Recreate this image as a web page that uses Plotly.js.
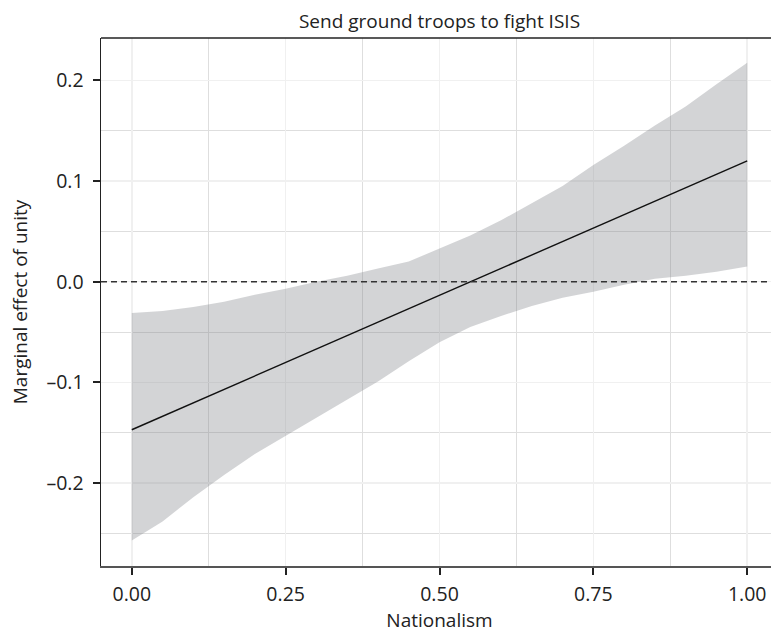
<!DOCTYPE html>
<html>
<head>
<meta charset="utf-8">
<script src="https://cdn.plot.ly/plotly-3.0.1.min.js"></script>
<style>
  html, body { margin: 0; padding: 0; overflow: hidden; background: #fff; }
  #chart { width: 778px; height: 636px; }
</style>
</head>
<body>
<div id="chart"></div>
<script>
// Nationalism values at which the marginal effect is evaluated
const nationalism = [0, 0.05, 0.10, 0.15, 0.20, 0.25, 0.30, 0.35, 0.40, 0.45, 0.50,
                     0.55, 0.60, 0.65, 0.70, 0.75, 0.80, 0.85, 0.90, 0.95, 1.00];
// Upper and lower confidence bounds
const upperCI = [-0.031, -0.029, -0.025, -0.020, -0.013, -0.007, 0.000, 0.006, 0.013, 0.020, 0.033,
                 0.046, 0.061, 0.078, 0.095, 0.116, 0.135, 0.155, 0.174, 0.196, 0.2175];
const lowerCI = [-0.257, -0.238, -0.214, -0.192, -0.171, -0.153, -0.135, -0.117, -0.099, -0.079, -0.060,
                 -0.045, -0.034, -0.024, -0.016, -0.010, -0.003, 0.003, 0.006, 0.010, 0.015];
// Point estimate line (straight line, endpoints)
const lineX = [0, 1];
const lineY = [-0.147, 0.120];
// Reference line
const refLine = 0;
// Ticks
const xTicks = [0, 0.25, 0.5, 0.75, 1.0];
const xTickText = ["0.00", "0.25", "0.50", "0.75", "1.00"];
const yTicks = [-0.2, -0.1, 0.0, 0.1, 0.2];
const yTickText = ["\u20130.2", "\u20130.1", "0.0", "0.1", "0.2"];

const FONT = "Open Sans, Noto Sans, sans-serif";

const traces = [
  { x: nationalism, y: lowerCI, type: "scatter", mode: "lines",
    line: { width: 0, color: "rgba(0,0,0,0)" }, hoverinfo: "skip", showlegend: false },
  { x: nationalism, y: upperCI, type: "scatter", mode: "lines", fill: "tonexty",
    fillcolor: "rgba(120,124,130,0.33)",
    line: { width: 0, color: "rgba(0,0,0,0)" }, hoverinfo: "skip", showlegend: false },
  { x: lineX, y: lineY, type: "scatter", mode: "lines",
    line: { width: 1.4, color: "#111" }, showlegend: false }
];

const layout = {
  width: 778, height: 636,
  margin: { l: 101, r: 0, t: 38, b: 70 },
  paper_bgcolor: "#fff", plot_bgcolor: "#fff",
  font: { family: FONT, color: "#222" },
  title: { text: "Send ground troops to fight ISIS", font: { size: 19, color: "#222", family: FONT },
           x: 0.5, xref: "paper", xanchor: "center", y: 1, yref: "paper", yanchor: "bottom",
           pad: { b: 10 } },
  xaxis: {
    range: [-0.05, 1.05], tickvals: xTicks, ticktext: xTickText,
    showline: true, linecolor: "#555", linewidth: 2,
    ticks: "outside", ticklen: 7, tickwidth: 2, tickcolor: "#222",
    tickfont: { size: 19.5, color: "#222" }, ticklabelstandoff: 3,
    showgrid: true, gridcolor: "#f0f0f0", gridwidth: 1.5,
    minor: { dtick: 0.125, tick0: 0, showgrid: true, gridcolor: "#dedede", gridwidth: 1, ticks: "" },
    zeroline: false,
    title: { text: "Nationalism", font: { size: 19, color: "#222" }, standoff: 6 }
  },
  yaxis: {
    range: [-0.2823, 0.242], tickvals: yTicks, ticktext: yTickText,
    showline: true, linecolor: "#222", linewidth: 1.5,
    ticks: "outside", ticklen: 7, tickwidth: 2, tickcolor: "#222",
    tickfont: { size: 19.5, color: "#222" }, ticklabelstandoff: 5,
    showgrid: true, gridcolor: "#f0f0f0", gridwidth: 1.5,
    minor: { dtick: 0.1, tick0: 0.05, showgrid: true, gridcolor: "#dedede", gridwidth: 1, ticks: "" },
    zeroline: false,
    title: { text: "Marginal effect of unity", font: { size: 19, color: "#222" }, standoff: 14 }
  },
  shapes: [
    { type: "line", xref: "paper", x0: 0, x1: 1, yref: "y", y0: refLine, y1: refLine,
      line: { color: "#333", width: 1.5, dash: "6px,4px" } },
    { type: "line", xref: "paper", x0: 0, x1: 1, yref: "paper", y0: 1, y1: 1,
      line: { color: "#222", width: 1.5 } }
  ]
};

Plotly.newPlot("chart", traces, layout, { displayModeBar: false, staticPlot: true });
</script>
</body>
</html>
